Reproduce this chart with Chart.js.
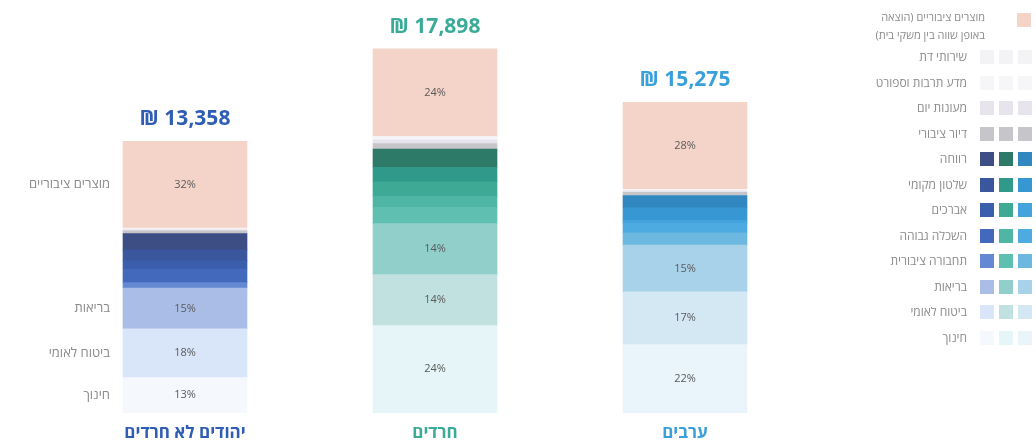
<!DOCTYPE html>
<html lang="he">
<head>
<meta charset="utf-8">
<script src="https://cdn.jsdelivr.net/npm/chart.js@4.4.1/dist/chart.umd.min.js"></script>
<style>
  body { margin: 0; background: #fff; }
  #wrap { position: relative; width: 1036px; height: 443px; }
  #legend { position: absolute; left: 0; top: 0; width: 1036px; height: 443px; pointer-events: none;
            font-family: 'Open Sans', 'Liberation Sans', 'DejaVu Sans', sans-serif; color: #8c8c8c; }
  .lrow { position: absolute; left: 0; width: 1036px; height: 14px; }
  .ltxt { position: absolute; right: 69px; top: -2px; font-size: 12px; line-height: 18px; direction: rtl; white-space: nowrap; }
  .sw { position: absolute; top: 0; width: 14px; height: 14px; }
</style>
</head>
<body>
<div id="wrap">
  <canvas id="grafico"></canvas>
  <div id="legend"></div>
</div>
<script>
// קבוצות אוכלוסייה
const groups = ['יהודים לא חרדים', 'חרדים', 'ערבים'];
const totals = [13358, 17898, 15275];
const groupColors = ['#2f5db3', '#3aab98', '#3aa0dc'];

// סעיפי הוצאה, מלמטה למעלה
const items = ['חינוך', 'ביטוח לאומי', 'בריאות', 'תחבורה ציבורית', 'השכלה גבוהה', 'אברכים',
               'שלטון מקומי', 'רווחה', 'דיור ציבורי', 'מעונות יום', 'מדע תרבות וספורט', 'שירותי דת',
               'מוצרים ציבוריים'];

// אחוז מכל סל (הסעיפים בלי תווית - הערכה מהתמונה)
const sharesNonHaredi = [13, 18, 15, 2, 5, 3, 4, 6, 1, 0.5, 0.3, 0.2, 32];
const sharesHaredi    = [24, 14, 14, 4.5, 3, 4, 4, 5, 1.5, 1, 0.5, 0.5, 24];
const sharesArab      = [22, 17, 15, 4, 3, 1, 4, 4, 1, 0.5, 0.3, 0.2, 28];
const labelledItems = ['חינוך', 'ביטוח לאומי', 'בריאות', 'מוצרים ציבוריים'];
const sideLabels = ['חינוך', 'ביטוח לאומי', 'בריאות', 'מוצרים ציבוריים'];

const colorsBlue = ['#f5f8fd', '#d9e5f8', '#a9bde6', '#6489d2', '#4369bd', '#3a5eab', '#3a569c', '#3c4e84',
                    '#c6c6ca', '#e8e4ee', '#f6f6f8', '#f3f3f6', '#f4d4c9'];
const colorsTeal = ['#e6f5f7', '#c0e1df', '#90cfca', '#5fbfb1', '#4fb6a6', '#3eaa96', '#31998a', '#2d7a68',
                    '#c6c6ca', '#e8e4ee', '#f6f6f8', '#f3f3f6', '#f4d4c9'];
const colorsSky  = ['#e9f4fb', '#d4e8f4', '#a8d1ea', '#6cb8e0', '#4eabe2', '#44a3dc', '#3797d2', '#3188c0',
                    '#c6c6ca', '#e8e4ee', '#f6f6f8', '#f3f3f6', '#f4d4c9'];

const sharesByGroup = [sharesNonHaredi, sharesHaredi, sharesArab];
const fontFam = "'Open Sans', 'Liberation Sans', 'DejaVu Sans', sans-serif";

const datasets = items.map((item, k) => ({
    label: item,
    data: totals.map((t, g) => t * sharesByGroup[g][k] / 100),
    backgroundColor: [colorsBlue[k], colorsTeal[k], colorsSky[k]],
    borderWidth: 0,
    stack: 's'
}));

// תוויות: סכום מעל העמודה, אחוזים בתוך הסעיפים ושמות ליד העמודה הראשונה
const labelsPlugin = {
    id: 'labelsPlugin',
    afterDatasetsDraw(chart) {
        const ctx = chart.ctx;
        ctx.save();
        ctx.textBaseline = 'middle';

        // אחוזים
        ctx.font = '11px ' + fontFam;
        ctx.fillStyle = '#5a5a5a';
        ctx.textAlign = 'center';
        items.forEach((item, k) => {
            if (!labelledItems.includes(item)) return;
            const meta = chart.getDatasetMeta(k);
            meta.data.forEach((bar, g) => {
                ctx.fillText(sharesByGroup[g][k] + '%', bar.x, (bar.y + bar.base) / 2);
            });
        });

        // שמות סעיפים משמאל
        ctx.font = '13px ' + fontFam;
        ctx.fillStyle = '#8a8a8a';
        ctx.textAlign = 'right';
        items.forEach((item, k) => {
            if (!sideLabels.includes(item)) return;
            const bar = chart.getDatasetMeta(k).data[0];
            ctx.fillText(item, bar.x - bar.width / 2 - 13, (bar.y + bar.base) / 2);
        });

        // סכום
        const topMeta = chart.getDatasetMeta(items.length - 1);
        ctx.font = 'bold 21px ' + fontFam;
        ctx.textAlign = 'center';
        topMeta.data.forEach((bar, g) => {
            ctx.fillStyle = groupColors[g];
            ctx.fillText('₪ ' + totals[g].toLocaleString('en-US'), bar.x, bar.y - 22);
        });
        ctx.restore();
    }
};

new Chart(document.getElementById('grafico').getContext('2d'), {
    type: 'bar',
    data: { labels: groups, datasets: datasets },
    options: {
        responsive: true,
        maintainAspectRatio: false,
        animation: false,
        layout: { padding: { left: 60, right: 226, top: 0, bottom: 0 } },
        plugins: { legend: { display: false }, tooltip: { enabled: false } },
        datasets: { bar: { barThickness: 124 } },
        scales: {
            x: {
                stacked: true,
                grid: { display: false, drawTicks: false },
                border: { display: false },
                afterFit: (scale) => { scale.height = 30; },
                ticks: {
                    padding: 10,
                    color: (c) => groupColors[c.index],
                    font: { family: fontFam, size: 17, weight: 'bold' }
                }
            },
            y: { stacked: true, display: false, min: 0, max: 20300 }
        }
    },
    plugins: [labelsPlugin]
});

// מקרא
const legend = document.getElementById('legend');
const top0 = document.createElement('div');
top0.className = 'lrow';
top0.style.top = '13px';
top0.innerHTML = '<div class="ltxt" style="right:51px;font-size:11px;line-height:18px;top:-5px;text-align:right">' +
    'מוצרים ציבוריים (הוצאה<br>באופן שווה בין משקי בית)</div>';
const pinkSw = document.createElement('div');
pinkSw.className = 'sw';
pinkSw.style.left = '1017px';
pinkSw.style.background = colorsBlue[items.length - 1];
top0.appendChild(pinkSw);
legend.appendChild(top0);

for (let i = 0; i < items.length - 1; i++) {
    const k = items.length - 2 - i;
    const row = document.createElement('div');
    row.className = 'lrow';
    row.style.top = (50 + i * 25.5) + 'px';
    const t = document.createElement('div');
    t.className = 'ltxt';
    t.textContent = items[k];
    row.appendChild(t);
    [colorsBlue, colorsTeal, colorsSky].forEach((cols, g) => {
        const s = document.createElement('div');
        s.className = 'sw';
        s.style.left = (980 + g * 19) + 'px';
        s.style.background = cols[k];
        row.appendChild(s);
    });
    legend.appendChild(row);
}
</script>
</body>
</html>
